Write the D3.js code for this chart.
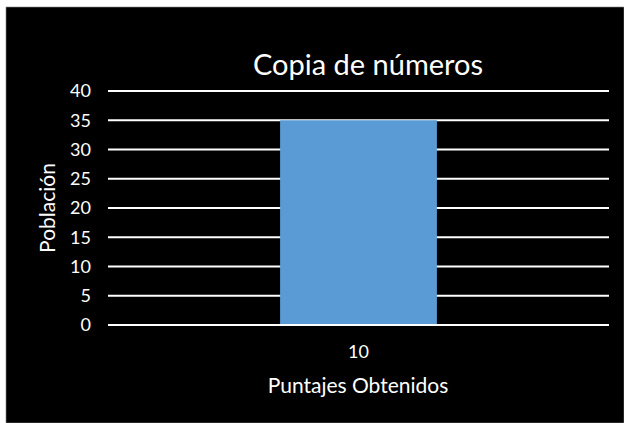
<!DOCTYPE html>
<html><head><meta charset="utf-8">
<script src="https://cdn.jsdelivr.net/npm/d3@7"></script>
<style>body{margin:0;background:#fff}svg{display:block}text{font-family:Lato,"Open Sans",sans-serif;fill:#fff}</style>
</head><body>
<script>
const categories = ["10"];
const values = [35];
const yTicks = [0,5,10,15,20,25,30,35,40];
const title = "Copia de números";
const xTitle = "Puntajes Obtenidos";
const yTitle = "Población";

(function(){
const W = 624, H = 423;
const svg = d3.select("body").append("svg").attr("width", W).attr("height", H);
svg.append("rect").attr("x", 6).attr("y", 7).attr("width", W - 6).attr("height", H - 7).attr("fill", "#000")
  .attr("stroke", "#888").attr("stroke-width", 0.6);

const mL = 108, mR = 609, mT = 91, mB = 325;
const x = d3.scaleBand().domain(categories).range([mL, mR]).paddingInner(0.687).paddingOuter(0.3435);
const y = d3.scaleLinear().domain([0, 40]).range([mB, mT]);

svg.append("g").selectAll("line").data(yTicks).join("line")
  .attr("x1", mL).attr("x2", mR).attr("y1", d => y(d)).attr("y2", d => y(d))
  .attr("stroke", "#fff").attr("stroke-width", 2);

svg.append("g").selectAll("rect").data(values).join("rect")
  .attr("x", (d, i) => x(categories[i])).attr("width", x.bandwidth())
  .attr("y", d => y(d)).attr("height", d => y(0) - y(d)).attr("fill", "#5B9BD5");

svg.append("line").attr("x1", mL).attr("x2", mR).attr("y1", y(0)).attr("y2", y(0)).attr("stroke", "#fff").attr("stroke-width", 2);

const ya = d3.axisLeft(y).tickValues(yTicks).tickSize(0).tickPadding(0);
const gy = svg.append("g").attr("transform", `translate(${mL - 17},0)`).call(ya);
gy.select(".domain").remove();
gy.selectAll("text").attr("font-size", 18).style("font-family", "Lato,'Open Sans',sans-serif").attr("fill", "#fff");

const xa = d3.axisBottom(x).tickSize(0).tickPadding(0);
const gx = svg.append("g").attr("transform", `translate(0,${mB + 20})`).call(xa);
gx.select(".domain").remove();
gx.selectAll("text").attr("font-size", 18).style("font-family", "Lato,'Open Sans',sans-serif").attr("fill", "#fff");

svg.append("text").attr("x", 368).attr("y", 75).attr("text-anchor", "middle").attr("font-size", 29).text(title);
svg.append("text").attr("x", 358).attr("y", 393).attr("text-anchor", "middle").attr("font-size", 21).text(xTitle);
svg.append("text").attr("transform", "translate(55,208) rotate(-90)").attr("text-anchor", "middle").attr("font-size", 21).text(yTitle);
})();
</script>
</body></html>
